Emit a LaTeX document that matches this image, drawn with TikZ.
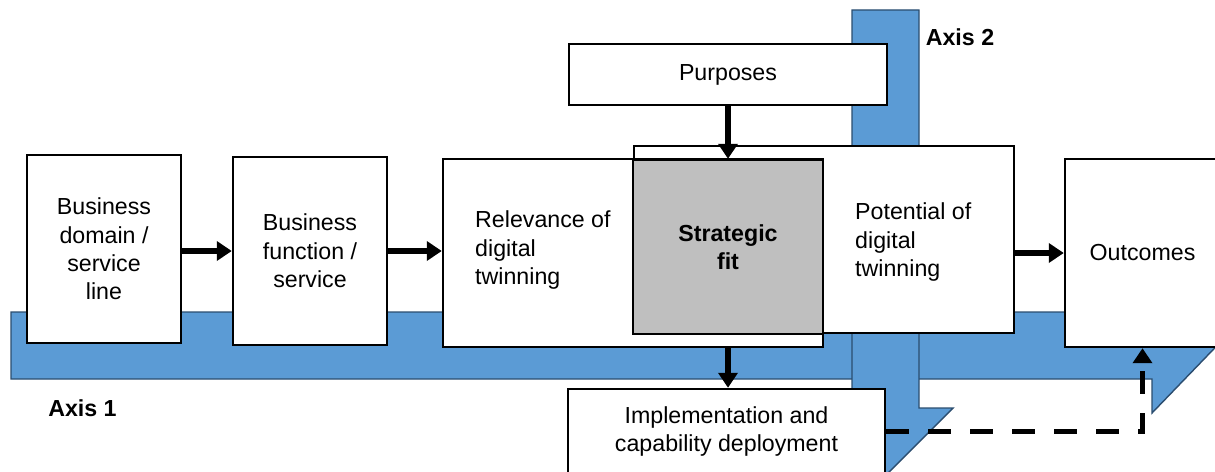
\documentclass[tikz,border=0pt]{standalone}
\usepackage{fontspec}
\setmainfont{Liberation Sans}
\usetikzlibrary{arrows.meta}
\definecolor{axisfill}{HTML}{5B9BD5}
\definecolor{axisline}{HTML}{2B4D6F}
\definecolor{fitgray}{HTML}{BFBFBF}
\begin{document}
\begin{tikzpicture}[
    font=\fontsize{13.2}{16.2}\selectfont,
    box/.style={draw, fill=white, line width=1.4pt, inner sep=0pt, align=center},
    axis/.style={fill=axisfill, draw=axisline, line width=0.8pt},
    arr/.style={line width=3.2pt, -{Triangle[length=0.3cm,width=0.38cm]}},
    dasharr/.style={arr, dash pattern=on 0.46cm off 0.38cm},
    axislabel/.style={font=\fontsize{13.2}{15}\selectfont\bfseries}
]
\clip (0,0) rectangle (24.3,-9.44);

% the two axes
\draw[axis] (0.22,-6.24) -- (24.68,-6.24) -- (24.68,-6.56) -- (23.04,-8.26)
    -- (23.04,-7.58) -- (0.22,-7.58) -- cycle;
\draw[axis] (17.04,-0.2) -- (18.38,-0.2) -- (18.38,-8.16) -- (19.06,-8.16)
    -- (17.04,-10.18) -- cycle;
\node[axislabel] (ax1) at (1.65,-8.16) {Axis 1};
\node[axislabel] (ax2) at (19.2,-0.74) {Axis 2};

% boxes
\node[box, minimum width=3.08cm, minimum height=3.76cm] (dom) at (2.08,-4.98)
    {Business\\domain /\\service\\line};
\node[box, minimum width=3.08cm, minimum height=3.76cm] (func) at (6.20,-5.02)
    {Business\\function /\\service};
\node[box, minimum width=7.60cm, minimum height=3.74cm] (pot) at (16.48,-4.79) {};
\node[box, minimum width=7.60cm, minimum height=3.76cm] (rel) at (12.66,-5.06) {};
\node[box, fill=fitgray, minimum width=3.80cm, minimum height=3.48cm] (fit) at (14.56,-4.94)
    {\bfseries Strategic\\\bfseries fit};
\node[align=left, anchor=west] (reltext) at (9.38,-5.0) {Relevance of\\digital\\twinning};
\node[align=left, anchor=west] (pottext) at (16.98,-4.84) {Potential of\\digital\\twinning};
\node[box, minimum width=6.36cm, minimum height=1.22cm] (purp) at (14.56,-1.49) {Purposes};
\node[box, minimum width=6.34cm, minimum height=1.70cm] (impl) at (14.53,-8.63)
    {Implementation and\\capability deployment};
\node[box, minimum width=3.10cm, minimum height=3.76cm] (out) at (22.85,-5.06) {Outcomes};

% connectors
\draw[arr] (dom.east |- func) -- (func);
\draw[arr] (func) -- (func -| rel.west);
\draw[arr] (out.west -| pot.east) -- (out.west);
\draw[arr] (purp.south -| fit.north) -- (fit.north);
\draw[arr] (fit.south |- rel.south) -- (fit.south |- impl.north);
\draw[dasharr] (impl.east) -| (out.south);
\end{tikzpicture}
\end{document}
